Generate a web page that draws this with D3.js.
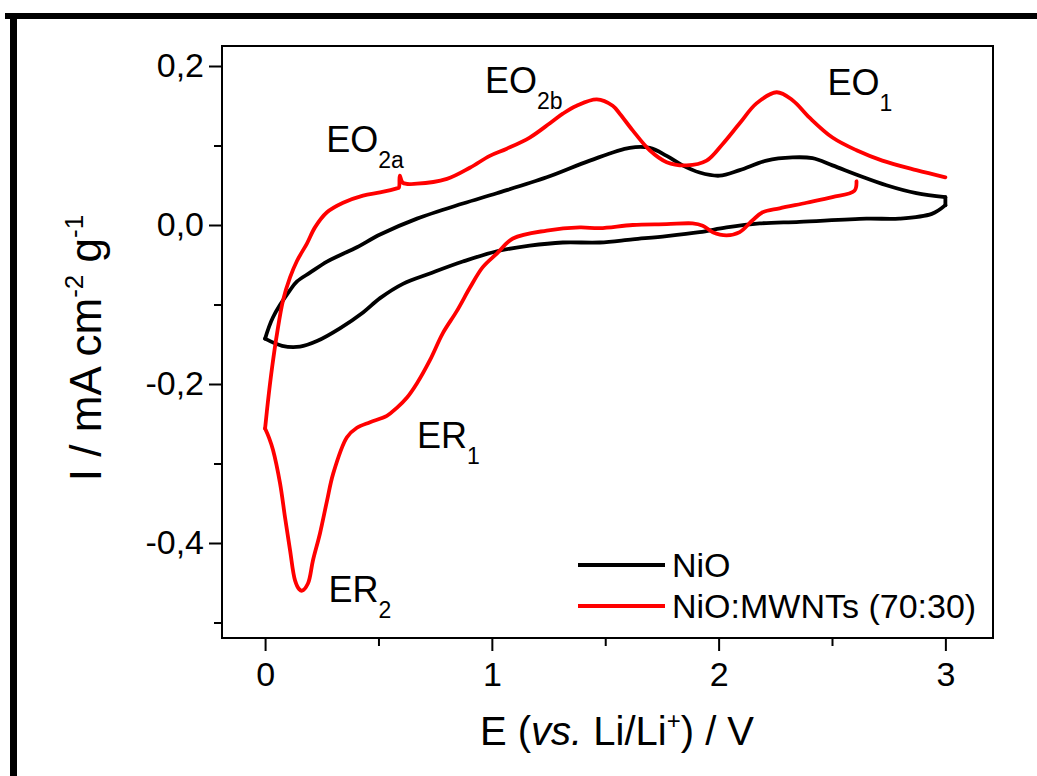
<!DOCTYPE html>
<html>
<head>
<meta charset="utf-8">
<script src="https://cdn.jsdelivr.net/npm/d3@7"></script>
<style>
  html, body { margin: 0; padding: 0; background: #fff; }
  svg { display: block; font-family: "Liberation Sans", Arial, sans-serif; }
</style>
</head>
<body>
<svg id="chart" width="1037" height="776"></svg>
<script>
// Cyclic voltammograms, E (V vs Li/Li+) and I (mA cm^-2 g^-1)

// NiO, anodic sweep 0 -> 3 V
const nioAnodicE = [0, 0.035, 0.110, 0.141, 0.198, 0.273, 0.330, 0.405, 0.507, 0.670, 0.872, 1.022, 1.242, 1.432, 1.608, 1.696, 1.771, 1.841, 1.916, 2.004, 2.093, 2.211, 2.326, 2.414, 2.502, 2.621, 2.740, 2.872, 3.0];
const nioAnodicI = [-0.143, -0.116, -0.082, -0.071, -0.060, -0.046, -0.038, -0.028, -0.012, 0.008, 0.027, 0.040, 0.060, 0.081, 0.097, 0.097, 0.087, 0.075, 0.066, 0.062, 0.069, 0.081, 0.085, 0.084, 0.075, 0.062, 0.050, 0.040, 0.035];

// NiO, cathodic sweep 3 -> 0 V
const nioCathodicE = [3.0, 2.94, 2.797, 2.652, 2.357, 2.181, 2.035, 1.916, 1.771, 1.621, 1.476, 1.313, 1.167, 1.022, 0.872, 0.727, 0.608, 0.507, 0.432, 0.330, 0.229, 0.154, 0.075, 0];
const nioCathodicI = [0.025, 0.014, 0.008, 0.008, 0.004, 0.002, -0.003, -0.009, -0.014, -0.018, -0.022, -0.022, -0.026, -0.033, -0.046, -0.061, -0.074, -0.092, -0.110, -0.130, -0.146, -0.153, -0.152, -0.143];

// NiO:MWNTs, cathodic sweep from open circuit (2.6 V) down to 0 V
const mwntCathodicE = [2.608, 2.599, 2.502, 2.388, 2.269, 2.194, 2.150, 2.093, 2.035, 1.974, 1.930, 1.885, 1.771, 1.621, 1.476, 1.388, 1.242, 1.093, 1.022, 0.960, 0.903, 0.846, 0.784, 0.727, 0.670, 0.626, 0.581, 0.537, 0.463, 0.405, 0.361, 0.300, 0.273, 0.242, 0.211, 0.189, 0.163, 0.150, 0.132, 0.110, 0.088, 0.066, 0.035, 0.018, 0];
const mwntCathodicI = [0.055, 0.043, 0.035, 0.028, 0.021, 0.016, 0.006, -0.009, -0.013, -0.009, -0.001, 0.002, 0.001, 0.000, -0.004, -0.003, -0.007, -0.017, -0.036, -0.053, -0.079, -0.108, -0.136, -0.170, -0.199, -0.217, -0.230, -0.240, -0.248, -0.255, -0.267, -0.313, -0.347, -0.388, -0.422, -0.451, -0.460, -0.458, -0.447, -0.409, -0.368, -0.325, -0.283, -0.268, -0.256];

// NiO:MWNTs, anodic sweep 0 -> 3 V
const mwntAnodicE = [0, 0.013, 0.031, 0.053, 0.079, 0.110, 0.141, 0.185, 0.220, 0.273, 0.344, 0.432, 0.507, 0.581, 0.590, 0.594, 0.608, 0.670, 0.802, 0.903, 0.991, 1.066, 1.167, 1.256, 1.313, 1.374, 1.463, 1.533, 1.564, 1.621, 1.696, 1.771, 1.859, 1.947, 2.018, 2.093, 2.167, 2.256, 2.326, 2.401, 2.502, 2.608, 2.722, 2.872, 3.0];
const mwntAnodicI = [-0.256, -0.221, -0.179, -0.136, -0.095, -0.066, -0.045, -0.023, -0.003, 0.016, 0.028, 0.037, 0.041, 0.046, 0.047, 0.062, 0.053, 0.052, 0.058, 0.072, 0.087, 0.096, 0.110, 0.128, 0.140, 0.150, 0.158, 0.150, 0.140, 0.119, 0.094, 0.079, 0.075, 0.081, 0.102, 0.128, 0.153, 0.167, 0.157, 0.135, 0.110, 0.094, 0.081, 0.069, 0.060];

const seriesNames = ["NiO", "NiO:MWNTs (70:30)"];
const seriesColors = ["#000000", "#ff0000"];

const xMajorTicks = [0, 1, 2, 3];
const xMinorTicks = [0.5, 1.5, 2.5];
const xTickLabels = ["0", "1", "2", "3"];
const yMajorTicks = [0.2, 0.0, -0.2, -0.4];
const yMinorTicks = [0.1, -0.1, -0.3, -0.5];
const yTickLabels = ["0,2", "0,0", "-0,2", "-0,4"];

// Peak annotations: main text, subscript, anchor (E, I)
const peakMain = ["EO", "EO", "EO", "ER", "ER"];
const peakSub = ["2a", "2b", "1", "1", "2"];
const peakE = [0.27, 0.97, 2.48, 0.67, 0.28];
const peakI = [0.092, 0.166, 0.163, -0.281, -0.474];

const pairs = (xs, ys) => xs.map((x, i) => [x, ys[i]]);
// each series is drawn branch by branch; vertex joins at the sweep reversals
const nioBranches = [
  pairs(nioAnodicE, nioAnodicI),
  [[nioAnodicE[nioAnodicE.length - 1], nioAnodicI[nioAnodicI.length - 1]], [nioCathodicE[0], nioCathodicI[0]]],
  pairs(nioCathodicE, nioCathodicI)
];
const mwntBranches = [
  pairs(mwntCathodicE, mwntCathodicI),
  pairs(mwntAnodicE, mwntAnodicI)
];

const svg = d3.select("#chart");
const plot = { left: 222, right: 993, top: 46, bottom: 638 };

svg.append("rect").attr("width", 1037).attr("height", 776).attr("fill", "#fff");

// heavy page border (top and left)
svg.append("rect").attr("x", 5).attr("y", 13).attr("width", 1032).attr("height", 6).attr("fill", "#000");
svg.append("rect").attr("x", 10).attr("y", 13).attr("width", 7).attr("height", 763).attr("fill", "#000");

const x = d3.scaleLinear().domain([-0.19, 3.21]).range([plot.left, plot.right]);
const y = d3.scaleLinear().domain([0.2, -0.4]).range([66, 543]);

// axes
const xAxis = d3.axisBottom(x).tickValues(xMajorTicks).tickSize(13).tickSizeOuter(0)
  .tickFormat((d, i) => xTickLabels[i]).tickPadding(11);
const xMinor = d3.axisBottom(x).tickValues(xMinorTicks).tickSize(8).tickSizeOuter(0).tickFormat("");
const yAxis = d3.axisLeft(y).tickValues(yMajorTicks).tickSize(13).tickSizeOuter(0)
  .tickFormat((d, i) => yTickLabels[i]).tickPadding(5);
const yMinor = d3.axisLeft(y).tickValues(yMinorTicks).tickSize(8).tickSizeOuter(0).tickFormat("");

function styleAxis(g, size) {
  g.select(".domain").remove();
  g.selectAll("line").attr("stroke", "#000").attr("stroke-width", 2);
  g.selectAll("text").attr("fill", "#000").attr("font-size", size)
    .attr("font-family", "Liberation Sans, Arial, sans-serif");
}

svg.append("g").attr("transform", `translate(0,${plot.bottom})`).call(xAxis).call(g => styleAxis(g, 34));
svg.append("g").attr("transform", `translate(0,${plot.bottom})`).call(xMinor).call(g => styleAxis(g, 34));
svg.append("g").attr("transform", `translate(${plot.left},0)`).call(yAxis).call(g => styleAxis(g, 34));
svg.append("g").attr("transform", `translate(${plot.left},0)`).call(yMinor).call(g => styleAxis(g, 34));

// plot frame
svg.append("rect")
  .attr("x", plot.left).attr("y", plot.top)
  .attr("width", plot.right - plot.left).attr("height", plot.bottom - plot.top)
  .attr("fill", "none").attr("stroke", "#000").attr("stroke-width", 2);

// curves
const line = d3.line().x(d => x(d[0])).y(d => y(d[1])).curve(d3.curveCatmullRom.alpha(0.5));
svg.append("clipPath").attr("id", "plotclip").append("rect")
  .attr("x", plot.left).attr("y", plot.top)
  .attr("width", plot.right - plot.left).attr("height", plot.bottom - plot.top);

const curves = svg.append("g").attr("clip-path", "url(#plotclip)");
[nioBranches, mwntBranches].forEach((branches, i) => {
  curves.selectAll(null).data(branches).enter().append("path")
    .attr("fill", "none").attr("stroke", seriesColors[i])
    .attr("stroke-width", 3.8).attr("stroke-linejoin", "round").attr("stroke-linecap", "round")
    .attr("d", line);
});

// peak labels
peakMain.forEach((t, i) => {
  const tx = svg.append("text")
    .attr("x", x(peakE[i])).attr("y", y(peakI[i]))
    .attr("font-size", 36).attr("fill", "#000");
  tx.append("tspan").text(t);
  tx.append("tspan").attr("font-size", 23).attr("dy", 16).text(peakSub[i]);
});

// legend
const legend = svg.append("g").attr("transform", "translate(578,565)");
seriesNames.forEach((name, i) => {
  const row = legend.append("g").attr("transform", `translate(0,${i * 41})`);
  row.append("line").attr("x1", 0).attr("x2", 87).attr("y1", 0).attr("y2", 0)
    .attr("stroke", seriesColors[i]).attr("stroke-width", 4);
  row.append("text").attr("x", 94).attr("y", 12).attr("font-size", 34).attr("fill", "#000").text(name);
});

// axis titles
const xTitle = svg.append("text").attr("x", 617).attr("y", 745)
  .attr("text-anchor", "middle").attr("font-size", 40).attr("fill", "#000");
xTitle.append("tspan").text("E (");
xTitle.append("tspan").attr("font-style", "italic").text("vs.");
xTitle.append("tspan").text(" Li/Li");
xTitle.append("tspan").attr("font-size", 24).attr("dy", -16).text("+");
xTitle.append("tspan").attr("dy", 16).text(") / V");

const yTitle = svg.append("text").attr("transform", "translate(101,348) rotate(-90)")
  .attr("text-anchor", "middle").attr("font-size", 44).attr("fill", "#000");
yTitle.append("tspan").text("I / mA cm");
yTitle.append("tspan").attr("font-size", 26).attr("dy", -18).text("-2");
yTitle.append("tspan").attr("dy", 18).text(" g");
yTitle.append("tspan").attr("font-size", 26).attr("dy", -18).text("-1");
</script>
</body>
</html>
